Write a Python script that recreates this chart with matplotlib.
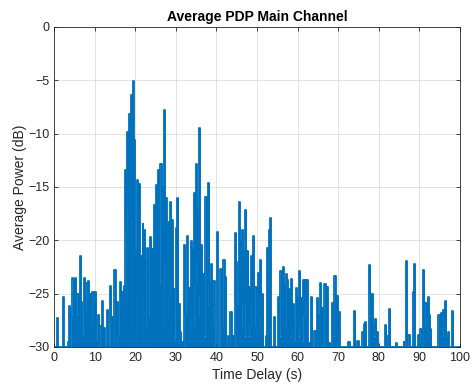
import numpy as np
import matplotlib
matplotlib.use("Agg")
import matplotlib.pyplot as plt

plt.rcParams['font.family'] = ['Liberation Sans', 'DejaVu Sans']

# =========================
# DATA
# =========================
delay_s = [
    0.0, 0.5, 0.75, 1.0, 2.0, 2.2, 2.5, 3.3, 3.6, 3.8, 4.1, 4.5, 4.6, 5.0, 5.4, 5.6, 5.9, 6.2, 6.5, 6.8,
    7.1, 7.5, 7.8, 8.1, 8.4, 8.7, 8.9, 9.2, 9.6, 10.0, 10.3, 10.5, 10.7, 11.0, 11.3, 11.6, 11.8, 12.1, 12.4, 12.6,
    13.0, 13.2, 13.5, 13.8, 14.0, 14.2, 14.4, 14.6, 15.0, 15.3, 15.7, 16.0, 16.3, 16.6, 16.8, 17.0, 17.3, 17.5, 17.7, 17.9,
    18.1, 18.3, 18.5, 18.7, 18.8, 19.0, 19.2, 19.5, 19.7, 19.8, 20.0, 20.2, 20.6, 20.8, 21.0, 21.3, 21.6, 21.8, 21.9, 22.1,
    22.3, 22.6, 22.8, 23.1, 23.4, 23.6, 23.9, 24.1, 24.3, 24.5, 24.7, 24.9, 25.1, 25.4, 25.7, 26.0, 26.4, 26.6, 26.7, 27.0,
    27.2, 27.4, 27.6, 27.9, 28.2, 28.5, 28.8, 29.0, 29.2, 29.4, 29.5, 29.8, 30.1, 30.3, 30.5, 30.8, 31.1, 31.4, 31.6, 31.9,
    32.2, 32.5, 32.8, 33.0, 33.3, 33.5, 33.8, 34.0, 34.2, 34.4, 34.7, 34.9, 35.1, 35.3, 35.4, 35.6, 35.9, 36.1, 36.4, 36.6,
    36.9, 37.1, 37.5, 37.7, 38.2, 38.4, 38.8, 39.0, 39.4, 39.7, 40.0, 40.2, 40.4, 40.7, 41.2, 41.5, 41.9, 42.1, 42.3, 42.6,
    42.9, 43.2, 43.6, 43.9, 44.2, 44.5, 44.8, 45.1, 45.4, 45.7, 45.9, 46.0, 46.3, 46.5, 46.7, 46.8, 47.0, 47.3, 47.5, 47.8,
    48.0, 48.2, 48.4, 48.7, 48.9, 49.2, 49.4, 49.8, 50.0, 50.3, 50.6, 51.0, 51.2, 51.4, 51.7, 52.0, 52.2, 52.5, 52.7, 53.0,
    53.2, 53.3, 53.6, 53.9, 54.3, 54.6, 54.8, 55.3, 55.6, 55.9, 56.2, 56.5, 56.7, 56.8, 57.0, 57.3, 57.5, 57.7, 57.9, 58.2,
    58.5, 58.8, 59.0, 59.3, 59.7, 59.9, 60.1, 60.3, 60.6, 60.8, 61.0, 61.3, 61.6, 61.8, 62.0, 62.2, 62.4, 62.6, 62.8, 63.1,
    63.5, 63.8, 64.0, 64.3, 64.6, 64.9, 65.1, 65.3, 65.6, 65.9, 66.1, 66.4, 66.8, 67.0, 67.3, 67.6, 67.9, 68.2, 68.6, 68.9,
    69.2, 69.5, 69.8, 70.0, 70.2, 70.5, 72.3, 72.7, 73.0, 73.8, 74.1, 74.4, 74.9, 75.2, 75.8, 76.1, 76.4, 76.8, 77.1, 77.5,
    77.8, 78.1, 78.4, 78.7, 79.0, 79.2, 79.6, 79.9, 81.3, 81.7, 82.0, 82.2, 82.7, 83.0, 84.0, 84.4, 84.7, 86.0, 86.2, 86.4,
    86.8, 87.1, 87.5, 87.8, 88.3, 88.5, 88.8, 89.1, 89.5, 89.8, 90.1, 90.4, 90.7, 91.1, 91.4, 91.6, 92.0, 92.2, 92.5, 92.8,
    93.1, 94.5, 94.9, 95.2, 95.4, 95.7, 96.0, 96.3, 96.5, 96.8, 97.1, 97.4, 97.9, 98.2, 98.5, 100.0,
]
power_db = [
    -30, -30, -27.3, -30, -30, -25.3, -30, -30, -29.5, -26.2, -30, -27, -23.5, -23.6, -23.5, -27, -25, -28, -21.5, -25.8,
    -29, -23.5, -26.5, -24, -23.8, -27.5, -25, -28, -24.8, -24.8, -24.8, -29.5, -30, -27.0, -30, -28, -25.7, -29, -28.2, -30,
    -30, -26.5, -30, -30, -24.3, -27.5, -27.2, -30, -22.8, -30, -25.8, -29, -23.9, -27, -24.8, -29.5, -24.3, -26, -13.4, -19,
    -9.8, -17, -8.2, -23.5, -28, -6.4, -18, -5.1, -25, -10.6, -30, -21, -14.3, -25, -14.7, -28, -21.5, -29, -18.5, -25,
    -19, -28, -22, -20.7, -27, -23, -19.7, -26, -20.8, -29.5, -16.7, -30, -14.8, -22, -13.4, -24, -12.8, -21, -15, -28,
    -7.8, -22, -16, -27, -18.3, -25, -16.4, -24, -18.1, -28, -24.6, -29.5, -18.8, -27, -16.0, -26, -28.6, -30, -29.5, -30,
    -20.4, -27, -19.6, -26, -24.5, -28, -20.1, -26, -20.9, -28, -15.6, -24, -12.8, -22, -17.2, -27, -9.5, -25, -20.4, -28,
    -23.2, -29, -15.9, -26, -14.6, -24, -22.2, -28, -23.8, -30, -30, -19.2, -30, -30, -22.7, -28, -21.8, -27, -23.4, -30,
    -29, -30, -26.7, -30, -29, -30, -19.3, -26, -22, -16.4, -25, -20, -28, -19.0, -26, -21, -29, -17.2, -26, -21,
    -29, -24.4, -28, -21.5, -26, -19.6, -28, -24.4, -29, -23.1, -28, -21.8, -27, -25, -30, -30, -29, -20.7, -27, -19.0,
    -25, -17.9, -30, -30, -27.2, -30, -30, -25.3, -29, -22.9, -27, -22.5, -26, -24.2, -28, -23.2, -23.7, -27, -24.6, -29,
    -23.6, -28, -26, -29.5, -24.5, -28, -25.3, -29, -22.9, -28, -25.4, -29.5, -23.7, -27, -23.7, -26, -23.7, -30, -29.6, -30,
    -25.3, -30, -30, -28.5, -30, -25.4, -29, -27, -24.0, -28, -26.3, -30, -24.1, -28, -24.4, -30, -29.6, -30, -25.9, -29,
    -23.3, -28, -25.2, -29, -26.7, -30, -30, -29.5, -30, -30, -26.6, -30, -29.4, -30, -30, -28.6, -27.8, -27.7, -30, -30,
    -22.3, -25, -25, -28, -29, -27.4, -28.6, -30, -30, -27.9, -30, -29, -26.4, -30, -30, -29.6, -30, -30, -29.5, -30,
    -21.9, -30, -28.9, -30, -30, -24.8, -22.2, -30, -30, -28.9, -29.5, -28.3, -30, -22.8, -28, -25.9, -29, -25.3, -27, -28.3,
    -30, -30, -27, -29, -26.8, -29, -26.5, -28, -25.7, -29, -28.6, -30, -30, -26.6, -30, -30,
]

x_ticks = np.arange(0, 101, 10)
y_ticks = np.arange(-30, 1, 5)

# =========================
# PLOT
# =========================
fig = plt.figure(figsize=(4.75, 3.89), dpi=100)
fig.set_facecolor('white')
ax = fig.add_axes([0.1137, 0.108, 0.8547, 0.8226])

blue = '#0072BD'
ax.fill_between(delay_s, power_db, -30, step='mid', color=blue, lw=0)
ax.plot(delay_s, power_db, '-', color=blue, lw=1.3, drawstyle='steps-mid')

ax.set_xlim(0, 100)
ax.set_ylim(-30, 0)
ax.set_xticks(x_ticks)
ax.set_yticks(y_ticks)
ax.grid(True, color='#dedede', lw=0.6)
ax.set_axisbelow(True)

ax.tick_params(direction='in', length=3, width=0.6, colors='#262626', labelsize=9,
               top=True, right=True, labeltop=False, labelright=False)
for spine in ax.spines.values():
    spine.set_color('#262626')
    spine.set_linewidth(0.6)

ax.set_title("Average PDP Main Channel", fontsize=10, fontweight='bold', color='black', pad=4)
ax.set_xlabel("Time Delay (s)", fontsize=10, color='#262626', labelpad=3)
ax.set_ylabel("Average Power (dB)", fontsize=10, color='#262626', labelpad=1)

fig.savefig("out.png", dpi=100)
